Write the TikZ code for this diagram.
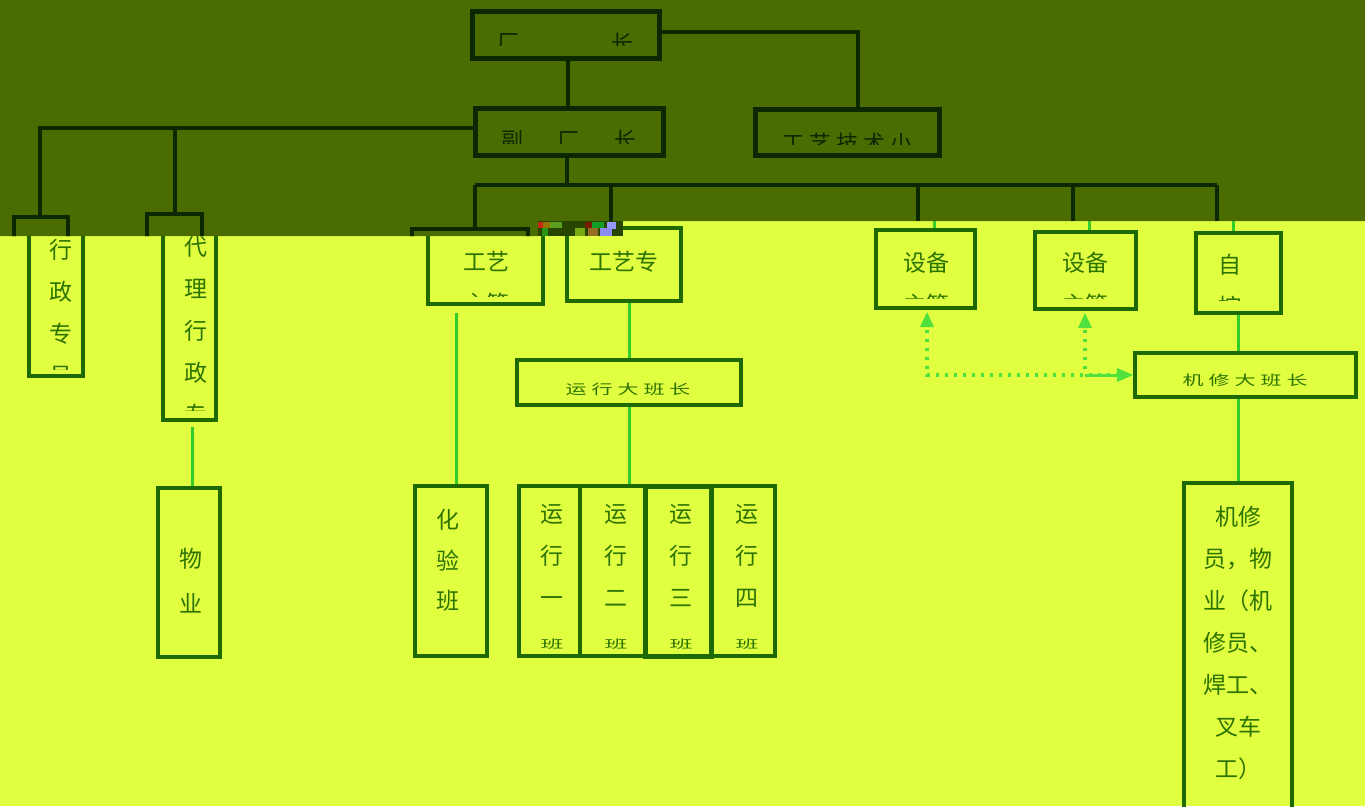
\documentclass[tikz,border=0pt]{standalone}
\usepackage{fontspec}
\usepackage{graphicx}
\newfontfamily\cjk{Noto Sans CJK SC}
\usetikzlibrary{arrows.meta}
\definecolor{bgY}{RGB}{225,255,65}
\definecolor{bgD}{RGB}{74,108,0}
\definecolor{lineD}{RGB}{12,40,0}
\definecolor{boxY}{RGB}{30,105,0}
\definecolor{conY}{RGB}{50,205,40}
\definecolor{txtY}{RGB}{45,115,0}
\definecolor{arrG}{RGB}{80,225,60}
\definecolor{gA}{RGB}{40,70,0}
\definecolor{gB}{RGB}{200,40,20}
\definecolor{gC}{RGB}{150,120,0}
\definecolor{gD}{RGB}{90,160,30}
\definecolor{gE}{RGB}{120,30,0}
\definecolor{gF}{RGB}{20,160,40}
\definecolor{gG}{RGB}{150,150,255}
\definecolor{gH}{RGB}{40,150,20}
\definecolor{gI}{RGB}{120,170,20}
\definecolor{gJ}{RGB}{150,110,40}
\definecolor{gK}{RGB}{140,140,240}
\begin{document}
\begin{tikzpicture}[x=1pt,y=-1pt,
  ybox/.style={draw=boxY, line width=4pt, inner sep=0pt},
  dbox/.style={draw=lineD, line width=5pt, inner sep=0pt},
  ytxt/.style={font=\cjk\fontsize{23}{42}\selectfont, text=txtY, align=center, inner sep=0pt},
  ysq/.style={font=\cjk\fontsize{21}{26}\selectfont, text=txtY, inner sep=0pt},
  dtxt/.style={font=\cjk\fontsize{22}{26}\selectfont, text=lineD, inner sep=0pt},
  ycon/.style={draw=conY, line width=3pt},
  dcon/.style={draw=lineD, line width=4pt},
  darr/.style={draw=arrG, line width=3.5pt, dash pattern=on 3pt off 6pt},
  tip/.style={fill=arrG, draw=none}
]
\useasboundingbox (0,0) rectangle (1365,806);
\fill[bgY] (0,0) rectangle (1365,806);

% ---------- yellow region boxes ----------
\node[ybox, minimum width=54pt, minimum height=156pt] (xz) at (56,298) {};
\node[ybox, minimum width=53pt, minimum height=200pt] (dl) at (189.5,320) {};
\node[ybox, minimum width=62pt, minimum height=169pt] (wy) at (189,572.5) {};
\node[ybox, minimum width=115pt, minimum height=84pt] (gy) at (485.5,262) {};
\node[ybox, minimum width=114pt, minimum height=73pt] (gyz) at (624,264.5) {};
\node[ybox, minimum width=224pt, minimum height=45pt] (yxd) at (629,382.5) {};
\node[ybox, minimum width=72pt, minimum height=170pt] (hy) at (451,571) {};
\node[ybox, minimum width=61pt, minimum height=170pt] (yx1) at (549.5,571) {};
\node[ybox, minimum width=65pt, minimum height=170pt] (yx2) at (612.5,571) {};
\node[ybox, minimum width=66pt, minimum height=170pt, line width=5pt] (yx3) at (678,571) {};
\node[ybox, minimum width=64pt, minimum height=170pt] (yx4) at (743,571) {};
\node[ybox, minimum width=99pt, minimum height=78pt] (sb1) at (925.5,269) {};
\node[ybox, minimum width=101pt, minimum height=77pt] (sb2) at (1085.5,270.5) {};
\node[ybox, minimum width=85pt, minimum height=80pt] (zk) at (1238.5,273) {};
\node[ybox, minimum width=221pt, minimum height=44pt] (jx) at (1245.5,375) {};
\node[ybox, minimum width=108pt, minimum height=337pt] (jxy) at (1238,651.5) {};

% ---------- yellow region texts ----------
\begin{scope}\clip (0,0) rectangle (1365,369);
\node[ytxt] (txz) at (61,313) {行\\政\\专\\员};
\end{scope}
\begin{scope}\clip (0,0) rectangle (1365,410);
\node[ytxt] (tdl) at (196,331) {代\\理\\行\\政\\专};
\end{scope}
\node[ytxt, font=\cjk\fontsize{23}{45}\selectfont] (twy) at (191,580.5) {物\\业};
\begin{scope}\clip (0,0) rectangle (1365,296);
\node[ytxt] (tgy) at (486,283) {工艺\\主管};
\end{scope}
\node[ytxt] (tgyz) at (624,262) {工艺专};
\node[ysq] (tyxd) at (628,389) {\scalebox{1}[0.65]{运\hspace{5pt}行\hspace{5pt}大\hspace{5pt}班\hspace{5pt}长}};
\node[ytxt, font=\cjk\fontsize{23}{40.5}\selectfont] (thy) at (448,560.5) {化\\验\\班};
\node[ytxt] (tyx1) at (552,577) {运\\行\\一\\\scalebox{1}[0.5]{班}};
\node[ytxt] (tyx2) at (616,577) {运\\行\\二\\\scalebox{1}[0.5]{班}};
\node[ytxt] (tyx3) at (681,577) {运\\行\\三\\\scalebox{1}[0.5]{班}};
\node[ytxt] (tyx4) at (747,577) {运\\行\\四\\\scalebox{1}[0.5]{班}};
\begin{scope}\clip (0,0) rectangle (1365,298);
\node[ytxt] (tsb1) at (926,284) {设备\\主管};
\node[ytxt] (tsb2) at (1085,284) {设备\\主管};
\end{scope}
\begin{scope}\clip (0,0) rectangle (1365,300);
\node[ytxt] (tzk) at (1230,286) {自\\控};
\end{scope}
\node[ysq] (tjx) at (1245,380) {\scalebox{1}[0.65]{机\hspace{5pt}修\hspace{5pt}大\hspace{5pt}班\hspace{5pt}长}};
\node[ytxt] (tjxy) at (1238,642.5) {机修\\员，物\\业（机\\修员、\\焊工、\\叉车\\工）};

% ---------- yellow region connectors ----------
\coordinate (s1) at (934,221);
\coordinate (s2) at (1089,221);
\coordinate (s3) at (1233,221);
\draw[ycon] (s1) -- (s1 |- sb1.north);
\draw[ycon] (s2) -- (s2 |- sb2.north);
\draw[ycon] (s3) -- (s3 |- zk.north);
\draw[ycon] (zk.south) -- (zk.south |- jx.north);
\draw[ycon] (jxy.north |- jx.south) -- (jxy.north);
\draw[ycon] (yxd.north |- gyz.south) -- (yxd.north);
\draw[ycon] (yxd.south) -- (yxd.south |- yx2.north);
\draw[ycon] ([xshift=5pt,yshift=-7pt]hy.north |- gy.south) -- ([xshift=5pt]hy.north);
\draw[ycon] ([xshift=3pt,yshift=-5pt]dl.south) -- ([xshift=3pt]dl.south |- wy.north);

% ---------- dotted arrows ----------
\coordinate (a1) at (927,330);
\coordinate (a2) at (1085,330);
\coordinate (aj) at (1118,375);
\draw[darr] (a1) |- (aj);
\draw[darr] (a2) -- (a2 |- aj);
\draw[arrG, line width=3pt] (a2 |- aj) -- (aj);
\fill[tip] ([yshift=-2pt]sb1.south -| a1) -- ++(-7,15) -- ++(14,0) -- cycle;
\fill[tip] ([yshift=-2pt]sb2.south -| a2) -- ++(-7,15) -- ++(14,0) -- cycle;
\fill[tip] (jx.west |- aj) -- ++(-16,-7) -- ++(0,14) -- cycle;

% ---------- dark band ----------
\fill[bgD] (0,0) -- (1365,0) -- (1365,221) -- (538,221) -- (538,236) -- (0,236) -- cycle;
% glitch strip
\fill[gA] (538,221) rectangle (623,236);
\fill[gB] (538,222) rectangle (543,228);
\fill[gC] (543,222) rectangle (550,228);
\fill[gD] (550,222) rectangle (562,228);
\fill[gE] (585,222) rectangle (592,228);
\fill[gF] (592,222) rectangle (604,228);
\fill[gG] (607,222) rectangle (616,229);
\fill[gH] (542,228) rectangle (548,236);
\fill[gI] (575,228) rectangle (585,236);
\fill[gJ] (588,228) rectangle (598,236);
\fill[gK] (600,228) rectangle (612,236);

% stubs of boxes in the dark band
\begin{scope}
\clip (0,0) -- (1365,0) -- (1365,221) -- (538,221) -- (538,236) -- (0,236) -- cycle;
\node[dbox, line width=4pt, minimum width=54pt, minimum height=86pt] (d1) at (41,260) {};
\node[dbox, line width=4pt, minimum width=55pt, minimum height=90pt] (d2) at (174.5,259) {};
\node[dbox, line width=4pt, minimum width=116pt, minimum height=60pt] (d3) at (470,259) {};
\end{scope}

% main dark boxes
\node[dbox, minimum width=187pt, minimum height=47pt] (cz) at (566,35) {};
\node[dbox, minimum width=188pt, minimum height=47pt] (fcz) at (569.5,132) {};
\node[dbox, minimum width=184pt, minimum height=46pt] (gjx) at (847.5,132.5) {};

% dark texts (top halves only)
\begin{scope}\clip (0,0) rectangle (1365,45);
\node[dtxt] (tcz1) at (508,43) {厂};
\node[dtxt] (tcz2) at (622,43) {长};
\end{scope}
\begin{scope}\clip (0,100) rectangle (1365,143);
\node[dtxt] (tfcz) at (569,140) {副\hspace{35pt}厂\hspace{35pt}长};
\end{scope}
\begin{scope}\clip (0,100) rectangle (1365,144);
\node[dtxt] (tgjx) at (847.5,143) {工\hspace{5pt}艺\hspace{5pt}技\hspace{5pt}术\hspace{5pt}小};
\end{scope}

% dark connectors
\coordinate (k1) at (858,32);
\draw[dcon] (cz.east |- k1) -- (k1) -- (k1 |- gjx.north);
\coordinate (cv) at (568,60);
\draw[dcon] (cz.south -| cv) -- (cv |- fcz.north);
\coordinate (L1) at (40,128);
\coordinate (L2) at (175,128);
\draw[dcon] (fcz.west |- L1) -- (L1) -- (L1 |- d1.north);
\draw[dcon] (L2) -- (L2 |- d2.north);
\coordinate (B) at (567,185);
\coordinate (H1) at (475,185);
\coordinate (H2) at (611,185);
\coordinate (H3) at (918,185);
\coordinate (H4) at (1073,185);
\coordinate (H5) at (1217,185);
\draw[dcon] (B |- fcz.south) -- (B);
\draw[dcon] (H1) -- (H5);
\draw[dcon] (H1) -- (H1 |- d3.north);
\coordinate (e2) at (611,221);
\coordinate (e3) at (918,221);
\coordinate (e4) at (1073,221);
\coordinate (e5) at (1217,221);
\draw[dcon] (H2) -- (e2);
\draw[dcon] (H3) -- (e3);
\draw[dcon] (H4) -- (e4);
\draw[dcon] (H5) -- (e5);
\end{tikzpicture}
\end{document}
